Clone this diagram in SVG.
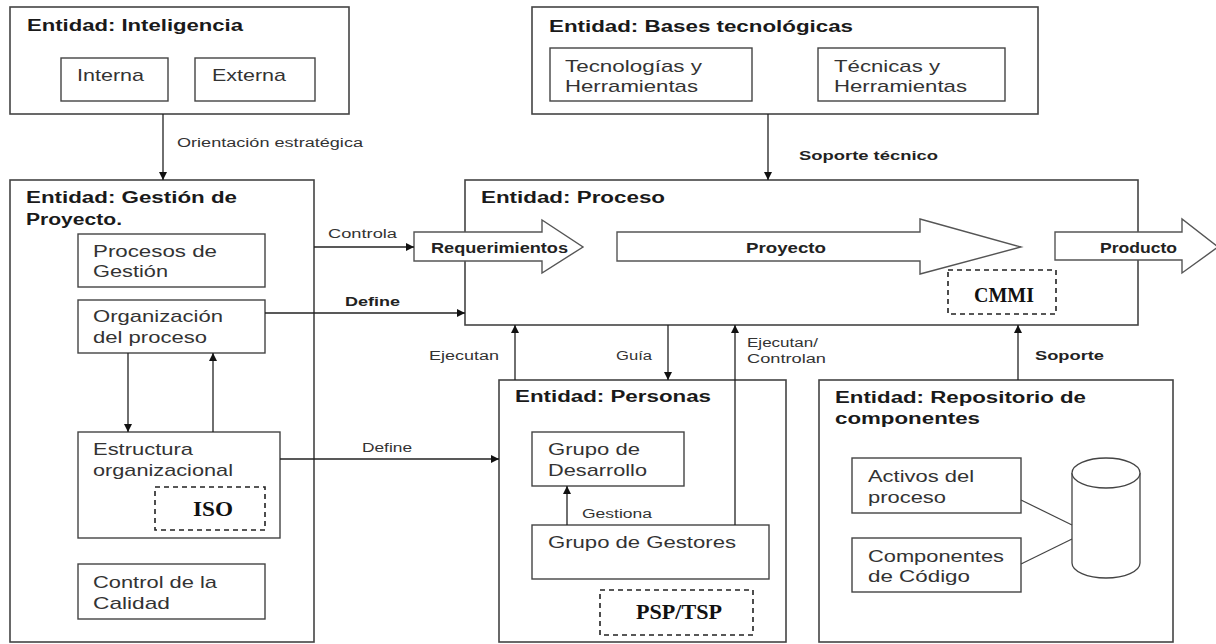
<svg xmlns="http://www.w3.org/2000/svg" width="1216" height="644" viewBox="0 0 1216 644">
  <style>
    .box { fill: #fff; stroke: #444; stroke-width: 1.6; }
    .sub { fill: #fff; stroke: #444; stroke-width: 1.4; }
    .dash { fill: none; stroke: #222; stroke-width: 1.6; stroke-dasharray: 5 4; }
    .big { fill: #fff; stroke: #555; stroke-width: 1.4; }
    .con { fill: none; stroke: #222; stroke-width: 1.3; }
    .title { font-family: "Liberation Sans", Arial, sans-serif; font-weight: bold; font-size: 16px; fill: #1a1a1a; }
    .item { font-family: "Liberation Sans", Arial, sans-serif; font-size: 17px; fill: #333; }
    .lbl { font-family: "Liberation Sans", Arial, sans-serif; font-size: 12px; fill: #333; }
    .lblb { font-family: "Liberation Sans", Arial, sans-serif; font-size: 13px; font-weight: bold; fill: #222; }
    .flow { font-family: "Liberation Sans", Arial, sans-serif; font-size: 14px; font-weight: bold; fill: #222; }
    .std { font-family: "Liberation Serif", "Times New Roman", serif; font-weight: bold; font-size: 20px; fill: #111; }
  </style>
  <defs>
    <marker id="head" markerUnits="userSpaceOnUse" markerWidth="9" markerHeight="8" refX="8" refY="4" orient="auto">
      <path d="M0,0 L8,4 L0,8 z" fill="#111"/>
    </marker>
  </defs>
  <rect width="1216" height="644" fill="#fff"/>

  <!-- Inteligencia -->
  <g id="inteligencia">
    <rect class="box" x="10" y="7" width="339" height="107"/>
    <text class="title" x="27" y="31" textLength="216" lengthAdjust="spacingAndGlyphs">Entidad: Inteligencia</text>
    <rect class="sub" x="61" y="58" width="107" height="43"/>
    <text class="item" x="77" y="81" textLength="67" lengthAdjust="spacingAndGlyphs">Interna</text>
    <rect class="sub" x="195" y="58" width="120" height="43"/>
    <text class="item" x="212" y="81" textLength="74" lengthAdjust="spacingAndGlyphs">Externa</text>
  </g>

  <!-- Bases tecnológicas -->
  <g id="bases">
    <rect class="box" x="532" y="7" width="506" height="107"/>
    <text class="title" x="549" y="32" textLength="304" lengthAdjust="spacingAndGlyphs">Entidad: Bases tecnológicas</text>
    <rect class="sub" x="550" y="48" width="202" height="53"/>
    <text class="item" x="565" y="72" textLength="137" lengthAdjust="spacingAndGlyphs">Tecnologías y</text>
    <text class="item" x="565" y="92" textLength="133" lengthAdjust="spacingAndGlyphs">Herramientas</text>
    <rect class="sub" x="818" y="48" width="187" height="53"/>
    <text class="item" x="834" y="72" textLength="106" lengthAdjust="spacingAndGlyphs">Técnicas y</text>
    <text class="item" x="834" y="92" textLength="133" lengthAdjust="spacingAndGlyphs">Herramientas</text>
  </g>

  <!-- Gestión de Proyecto -->
  <g id="gestion">
    <rect class="box" x="10" y="180" width="304" height="462"/>
    <text class="title" x="26" y="203" textLength="211" lengthAdjust="spacingAndGlyphs">Entidad: Gestión de</text>
    <text class="title" x="26" y="225" textLength="96" lengthAdjust="spacingAndGlyphs">Proyecto.</text>
    <rect class="sub" x="78" y="234" width="187" height="53"/>
    <text class="item" x="93" y="257" textLength="124" lengthAdjust="spacingAndGlyphs">Procesos de</text>
    <text class="item" x="93" y="277" textLength="75" lengthAdjust="spacingAndGlyphs">Gestión</text>
    <rect class="sub" x="78" y="300" width="187" height="53"/>
    <text class="item" x="93" y="322" textLength="130" lengthAdjust="spacingAndGlyphs">Organización</text>
    <text class="item" x="93" y="343" textLength="114" lengthAdjust="spacingAndGlyphs">del proceso</text>
    <rect class="sub" x="78" y="432" width="202" height="106"/>
    <text class="item" x="93" y="455" textLength="100" lengthAdjust="spacingAndGlyphs">Estructura</text>
    <text class="item" x="93" y="476" textLength="140" lengthAdjust="spacingAndGlyphs">organizacional</text>
    <rect class="dash" x="155" y="487" width="110" height="43"/>
    <text class="std" x="193" y="516" textLength="40" lengthAdjust="spacingAndGlyphs">ISO</text>
    <rect class="sub" x="78" y="564" width="187" height="55"/>
    <text class="item" x="93" y="588" textLength="124" lengthAdjust="spacingAndGlyphs">Control de la</text>
    <text class="item" x="93" y="609" textLength="77" lengthAdjust="spacingAndGlyphs">Calidad</text>
  </g>

  <!-- Proceso -->
  <g id="proceso">
    <rect class="box" x="465" y="180" width="673" height="145"/>
    <text class="title" x="481" y="203" textLength="184" lengthAdjust="spacingAndGlyphs">Entidad: Proceso</text>
    <path class="big" d="M414,232 H542 V220 L583,247 L542,273 V261 H414 Z"/>
    <text class="flow" x="431" y="253" textLength="137" lengthAdjust="spacingAndGlyphs">Requerimientos</text>
    <path class="big" d="M617,232 H920 V219 L1021,247 L920,274 V261 H617 Z"/>
    <text class="flow" x="746" y="253" textLength="80" lengthAdjust="spacingAndGlyphs">Proyecto</text>
    <path class="big" d="M1055,232 H1182 V219 L1218,247 L1182,273 V260 H1055 Z"/>
    <text class="flow" x="1100" y="253" textLength="77" lengthAdjust="spacingAndGlyphs">Producto</text>
    <rect class="dash" x="948" y="270" width="108" height="44"/>
    <text class="std" x="974" y="302" textLength="60" lengthAdjust="spacingAndGlyphs">CMMI</text>
  </g>

  <!-- Personas -->
  <g id="personas">
    <rect class="box" x="499" y="380" width="287" height="262"/>
    <text class="title" x="515" y="402" textLength="196" lengthAdjust="spacingAndGlyphs">Entidad: Personas</text>
    <rect class="sub" x="532" y="432" width="152" height="54"/>
    <text class="item" x="548" y="455" textLength="92" lengthAdjust="spacingAndGlyphs">Grupo de</text>
    <text class="item" x="548" y="476" textLength="99" lengthAdjust="spacingAndGlyphs">Desarrollo</text>
    <rect class="sub" x="532" y="525" width="237" height="54"/>
    <text class="item" x="548" y="548" textLength="188" lengthAdjust="spacingAndGlyphs">Grupo de Gestores</text>
    <rect class="dash" x="600" y="590" width="153" height="45"/>
    <text class="std" x="636" y="619" textLength="86" lengthAdjust="spacingAndGlyphs">PSP/TSP</text>
  </g>

  <!-- Repositorio de componentes -->
  <g id="repositorio">
    <rect class="box" x="819" y="380" width="354" height="262"/>
    <text class="title" x="835" y="403" textLength="251" lengthAdjust="spacingAndGlyphs">Entidad: Repositorio de</text>
    <text class="title" x="835" y="424" textLength="145" lengthAdjust="spacingAndGlyphs">componentes</text>
    <rect class="sub" x="852" y="458" width="169" height="55"/>
    <text class="item" x="868" y="482" textLength="106" lengthAdjust="spacingAndGlyphs">Activos del</text>
    <text class="item" x="868" y="503" textLength="78" lengthAdjust="spacingAndGlyphs">proceso</text>
    <rect class="sub" x="852" y="538" width="169" height="54"/>
    <text class="item" x="868" y="562" textLength="136" lengthAdjust="spacingAndGlyphs">Componentes</text>
    <text class="item" x="868" y="582" textLength="102" lengthAdjust="spacingAndGlyphs">de Código</text>
    <path fill="#fff" stroke="#444" stroke-width="1.3" d="M1072,473 V563 A34,15 0 0 0 1140,563 V473"/>
    <ellipse cx="1106" cy="473" rx="34" ry="15" fill="#fff" stroke="#444" stroke-width="1.3"/>
    <line x1="1021" y1="500" x2="1072" y2="525" stroke="#444" stroke-width="1.2"/>
    <line x1="1021" y1="564" x2="1072" y2="539" stroke="#444" stroke-width="1.2"/>
  </g>

  <!-- Connectors -->
  <g id="connectors">
    <line class="con" x1="163" y1="114" x2="163" y2="180" marker-end="url(#head)"/>
    <line class="con" x1="768" y1="114" x2="768" y2="180" marker-end="url(#head)"/>
    <line class="con" x1="314" y1="247" x2="414" y2="247" marker-end="url(#head)"/>
    <line class="con" x1="265" y1="313" x2="465" y2="313" marker-end="url(#head)"/>
    <line class="con" x1="128" y1="353" x2="128" y2="432" marker-end="url(#head)"/>
    <line class="con" x1="213" y1="432" x2="213" y2="353" marker-end="url(#head)"/>
    <line class="con" x1="280" y1="459" x2="499" y2="459" marker-end="url(#head)"/>
    <line class="con" x1="515" y1="380" x2="515" y2="325" marker-end="url(#head)"/>
    <line class="con" x1="668" y1="325" x2="668" y2="380" marker-end="url(#head)"/>
    <line class="con" x1="735" y1="525" x2="735" y2="325" marker-end="url(#head)"/>
    <line class="con" x1="567" y1="525" x2="567" y2="486" marker-end="url(#head)"/>
    <line class="con" x1="1018" y1="380" x2="1018" y2="325" marker-end="url(#head)"/>

    <text class="lbl" x="177" y="147" textLength="186" lengthAdjust="spacingAndGlyphs">Orientación estratégica</text>
    <text class="lblb" x="799" y="160" textLength="139" lengthAdjust="spacingAndGlyphs">Soporte técnico</text>
    <text class="lbl" x="328" y="238" textLength="69" lengthAdjust="spacingAndGlyphs">Controla</text>
    <text class="lblb" x="345" y="306" textLength="55" lengthAdjust="spacingAndGlyphs">Define</text>
    <text class="lbl" x="362" y="452" textLength="50" lengthAdjust="spacingAndGlyphs">Define</text>
    <text class="lbl" x="429" y="360" textLength="70" lengthAdjust="spacingAndGlyphs">Ejecutan</text>
    <text class="lbl" x="616" y="360" textLength="36" lengthAdjust="spacingAndGlyphs">Guía</text>
    <text class="lbl" x="747" y="347" textLength="71" lengthAdjust="spacingAndGlyphs">Ejecutan/</text>
    <text class="lbl" x="747" y="363" textLength="79" lengthAdjust="spacingAndGlyphs">Controlan</text>
    <text class="lbl" x="582" y="518" textLength="70" lengthAdjust="spacingAndGlyphs">Gestiona</text>
    <text class="lblb" x="1035" y="360" textLength="69" lengthAdjust="spacingAndGlyphs">Soporte</text>
  </g>
</svg>
